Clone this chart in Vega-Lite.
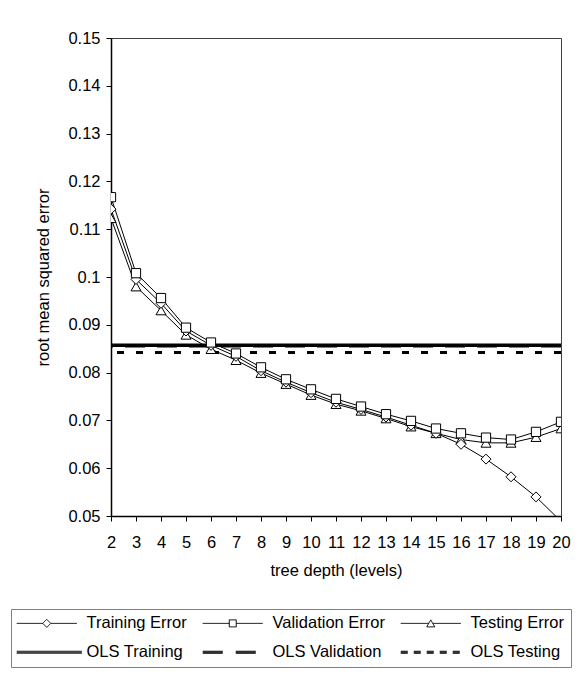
{
  "$schema": "https://vega.github.io/schema/vega-lite/v6.json",
  "width": 450,
  "height": 478,
  "autosize": {"type": "none"},
  "padding": {"left": 111, "top": 38, "right": 27, "bottom": 159},
  "background": "white",
  "config": {
    "font": "Liberation Sans",
    "view": {"stroke": "#404040", "strokeWidth": 1},
    "axis": {
      "domainColor": "black",
      "domainWidth": 1.5,
      "tickColor": "black",
      "tickWidth": 1,
      "tickSize": 5,
      "labelFont": "Liberation Sans",
      "labelFontSize": 16.5,
      "labelColor": "black",
      "labelOverlap": false,
      "titleFont": "Liberation Sans",
      "titleFontSize": 16.5,
      "titleFontWeight": "normal",
      "titleColor": "black",
      "grid": false
    },
    "legend": {
      "title": null,
      "orient": "none",
      "legendX": -100,
      "legendY": 571,
      "direction": "horizontal",
      "columns": 3,
      "columnPadding": 13,
      "rowPadding": 12,
      "padding": 6,
      "strokeColor": "#808080",
      "fillColor": "white",
      "labelFont": "Liberation Sans",
      "labelFontSize": 16.5,
      "labelColor": "black",
      "labelLimit": 200,
      "symbolSize": 100,
      "symbolOffset": 21.5,
      "labelOffset": 31.5,
      "symbolStrokeWidth": 1,
      "symbolOpacity": 1
    }
  },
  "datasets": {
    "errors": [
      {"depth": 2, "series": "Training Error", "rmse": 0.1142},
      {"depth": 3, "series": "Training Error", "rmse": 0.0995},
      {"depth": 4, "series": "Training Error", "rmse": 0.0945},
      {"depth": 5, "series": "Training Error", "rmse": 0.0887},
      {"depth": 6, "series": "Training Error", "rmse": 0.0857},
      {"depth": 7, "series": "Training Error", "rmse": 0.0834},
      {"depth": 8, "series": "Training Error", "rmse": 0.0804},
      {"depth": 9, "series": "Training Error", "rmse": 0.0780},
      {"depth": 10, "series": "Training Error", "rmse": 0.0758},
      {"depth": 11, "series": "Training Error", "rmse": 0.0738},
      {"depth": 12, "series": "Training Error", "rmse": 0.0723},
      {"depth": 13, "series": "Training Error", "rmse": 0.0707},
      {"depth": 14, "series": "Training Error", "rmse": 0.0690},
      {"depth": 15, "series": "Training Error", "rmse": 0.0673},
      {"depth": 16, "series": "Training Error", "rmse": 0.0650},
      {"depth": 17, "series": "Training Error", "rmse": 0.0619},
      {"depth": 18, "series": "Training Error", "rmse": 0.0582},
      {"depth": 19, "series": "Training Error", "rmse": 0.0540},
      {"depth": 20, "series": "Training Error", "rmse": 0.0489},
      {"depth": 2, "series": "Validation Error", "rmse": 0.1167},
      {"depth": 3, "series": "Validation Error", "rmse": 0.1008},
      {"depth": 4, "series": "Validation Error", "rmse": 0.0956},
      {"depth": 5, "series": "Validation Error", "rmse": 0.0894},
      {"depth": 6, "series": "Validation Error", "rmse": 0.0863},
      {"depth": 7, "series": "Validation Error", "rmse": 0.0840},
      {"depth": 8, "series": "Validation Error", "rmse": 0.0811},
      {"depth": 9, "series": "Validation Error", "rmse": 0.0786},
      {"depth": 10, "series": "Validation Error", "rmse": 0.0765},
      {"depth": 11, "series": "Validation Error", "rmse": 0.0745},
      {"depth": 12, "series": "Validation Error", "rmse": 0.0729},
      {"depth": 13, "series": "Validation Error", "rmse": 0.0713},
      {"depth": 14, "series": "Validation Error", "rmse": 0.0699},
      {"depth": 15, "series": "Validation Error", "rmse": 0.0683},
      {"depth": 16, "series": "Validation Error", "rmse": 0.0673},
      {"depth": 17, "series": "Validation Error", "rmse": 0.0664},
      {"depth": 18, "series": "Validation Error", "rmse": 0.0660},
      {"depth": 19, "series": "Validation Error", "rmse": 0.0676},
      {"depth": 20, "series": "Validation Error", "rmse": 0.0697},
      {"depth": 2, "series": "Testing Error", "rmse": 0.1123},
      {"depth": 3, "series": "Testing Error", "rmse": 0.0980},
      {"depth": 4, "series": "Testing Error", "rmse": 0.0930},
      {"depth": 5, "series": "Testing Error", "rmse": 0.0879},
      {"depth": 6, "series": "Testing Error", "rmse": 0.0849},
      {"depth": 7, "series": "Testing Error", "rmse": 0.0826},
      {"depth": 8, "series": "Testing Error", "rmse": 0.0799},
      {"depth": 9, "series": "Testing Error", "rmse": 0.0776},
      {"depth": 10, "series": "Testing Error", "rmse": 0.0753},
      {"depth": 11, "series": "Testing Error", "rmse": 0.0734},
      {"depth": 12, "series": "Testing Error", "rmse": 0.0720},
      {"depth": 13, "series": "Testing Error", "rmse": 0.0704},
      {"depth": 14, "series": "Testing Error", "rmse": 0.0687},
      {"depth": 15, "series": "Testing Error", "rmse": 0.0673},
      {"depth": 16, "series": "Testing Error", "rmse": 0.0660},
      {"depth": 17, "series": "Testing Error", "rmse": 0.0653},
      {"depth": 18, "series": "Testing Error", "rmse": 0.0653},
      {"depth": 19, "series": "Testing Error", "rmse": 0.0665},
      {"depth": 20, "series": "Testing Error", "rmse": 0.0683}
    ],
    "ols": [
      {"series": "OLS Training", "rmse": 0.0857},
      {"series": "OLS Validation", "rmse": 0.0856},
      {"series": "OLS Testing", "rmse": 0.0842}
    ]
  },
  "encoding": {
    "y": {
      "field": "rmse",
      "type": "quantitative",
      "scale": {"domain": [0.05, 0.15], "nice": false, "zero": false},
      "axis": {
        "values": [0.05, 0.06, 0.07, 0.08, 0.09, 0.1, 0.11, 0.12, 0.13, 0.14, 0.15],
        "format": ".2~f",
        "labelOverlap": false,
        "labelPadding": 6,
        "titlePadding": 16.5,
        "title": "root mean squared error"
      }
    }
  },
  "layer": [
    {
      "data": {"name": "ols"},
      "transform": [{"filter": "datum.series === 'OLS Training'"}],
      "mark": {"type": "rule", "color": "black", "strokeWidth": 3.5}
    },
    {
      "data": {"name": "ols"},
      "transform": [{"filter": "datum.series === 'OLS Validation'"}],
      "mark": {"type": "rule", "color": "black", "strokeWidth": 3.5, "strokeDash": [20, 12]}
    },
    {
      "data": {"name": "ols"},
      "transform": [{"filter": "datum.series === 'OLS Testing'"}],
      "mark": {"type": "rule", "color": "black", "strokeWidth": 3, "strokeDash": [7, 12]}
    },
    {
      "data": {"name": "errors"},
      "mark": {"type": "line", "color": "black", "strokeWidth": 1, "clip": true},
      "encoding": {
        "x": {
          "field": "depth",
          "type": "ordinal",
          "scale": {"type": "point", "padding": 0},
          "axis": {
            "labelAngle": 0,
            "labelOverlap": false,
            "labelPadding": 13,
            "titlePadding": 12,
            "title": "tree depth (levels)"
          }
        },
        "detail": {"field": "series", "type": "nominal"}
      }
    },
    {
      "data": {"name": "errors"},
      "transform": [{"filter": "datum.depth > 100"}],
      "mark": {"type": "point", "filled": true, "fill": "white", "stroke": "black", "strokeWidth": 1, "opacity": 1, "clip": true},
      "encoding": {
        "x": {"field": "depth", "type": "ordinal"},
        "shape": {
          "field": "series",
          "type": "nominal",
          "scale": {
            "domain": ["Training Error", "Validation Error", "Testing Error", "OLS Training", "OLS Validation", "OLS Testing"],
            "range": [
              "M-6,0L-0.8,0M0.8,0L6,0M0,-0.8L0.8,0L0,0.8L-0.8,0Z",
              "M-6,0L-0.7,0M0.7,0L6,0M-0.7,-0.7L0.7,-0.7L0.7,0.7L-0.7,0.7Z",
              "M-6,0L-0.4,0M0.4,0L6,0M0,-0.7L0.8,0.7L-0.8,0.7Z",
              "M-6,-0.2L7,-0.2M-6,0L7,0M-6,0.2L7,0.2",
              "M-6,-0.2L7,-0.2M-6,0L7,0M-6,0.2L7,0.2",
              "M-6,-0.2L7,-0.2M-6,0L7,0M-6,0.2L7,0.2"
            ]
          },
          "legend": {"title": null}
        },
        "strokeDash": {
          "field": "series",
          "type": "nominal",
          "scale": {
            "domain": ["Training Error", "Validation Error", "Testing Error", "OLS Training", "OLS Validation", "OLS Testing"],
            "range": [[1, 0], [1, 0], [1, 0], [1, 0], [20, 13], [7, 6]]
          },
          "legend": {"title": null}
        }
      }
    },
    {
      "data": {"name": "errors"},
      "transform": [{"filter": "datum.series === 'Testing Error'"}],
      "mark": {"type": "point", "shape": "triangle-up", "filled": true, "fill": "white", "stroke": "black", "strokeWidth": 1, "size": 100, "opacity": 1, "clip": true},
      "encoding": {"x": {"field": "depth", "type": "ordinal"}}
    },
    {
      "data": {"name": "errors"},
      "transform": [{"filter": "datum.series === 'Training Error'"}],
      "mark": {"type": "point", "shape": "diamond", "filled": true, "fill": "white", "stroke": "black", "strokeWidth": 1, "size": 100, "opacity": 1, "clip": true},
      "encoding": {"x": {"field": "depth", "type": "ordinal"}}
    },
    {
      "data": {"name": "errors"},
      "transform": [{"filter": "datum.series === 'Validation Error'"}],
      "mark": {"type": "point", "shape": "square", "filled": true, "fill": "white", "stroke": "black", "strokeWidth": 1, "size": 85, "opacity": 1, "clip": true},
      "encoding": {"x": {"field": "depth", "type": "ordinal"}}
    }
  ]
}
